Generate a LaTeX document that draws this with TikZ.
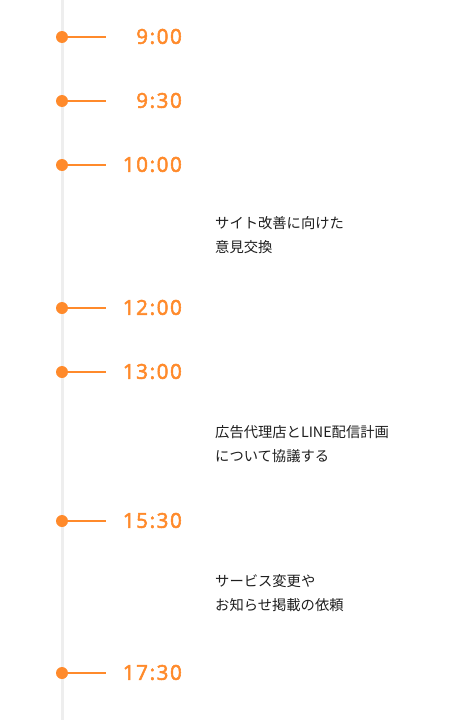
\documentclass[tikz,border=0pt]{standalone}
\usepackage{fontspec}
\setmainfont{Noto Sans CJK JP}
\newfontfamily\timefont{Open Sans}[LetterSpace=8, FakeBold=2.6]
\usetikzlibrary{positioning}
\definecolor{orange}{RGB}{255,138,43}
\definecolor{railgray}{RGB}{238,238,238}
\definecolor{notetext}{RGB}{30,30,30}

\begin{document}
\begin{tikzpicture}[x=1pt, y=-1pt,
    dot/.style={circle, fill=orange, inner sep=0pt, minimum size=12pt},
    tick/.style={draw=orange, line width=1.6pt},
    timelbl/.style={anchor=east, text=orange, font=\timefont\fontsize{20.5}{20.5}\selectfont, inner sep=0pt},
    note/.style={anchor=north west, align=left, text=notetext, font=\fontsize{14.3}{24}\selectfont, inner sep=0pt}]
    \useasboundingbox (0,0) rectangle (450,720);
    % rail
    \coordinate (railtop) at (62,0);
    \coordinate (railbot) at (62,720);
    \draw[railgray, line width=3pt] (railtop) -- (railbot);

    % time marks
    \foreach \name/\y/\t in {a/37/9:00, b/101/9:30, c/165/10:00, d/308/12:00,
                             e/372/13:00, f/521/15:30, g/673/17:30} {
        \node[dot] (dot\name) at (62,\y) {};
        \coordinate (tk\name) at (106,\y);
        \draw[tick] (dot\name.center) -- (tk\name);
        \node[timelbl] (time\name) at (182,\y-0.5) {\t};
    }

    % notes
    \node[note] (note1) at (215,216) {サイト改善に向けた\\意見交換};
    \node[note] (note2) at (215,425) {広告代理店とLINE配信計画\\について協議する};
    \node[note] (note3) at (215,574) {サービス変更や\\お知らせ掲載の依頼};
\end{tikzpicture}
\end{document}
